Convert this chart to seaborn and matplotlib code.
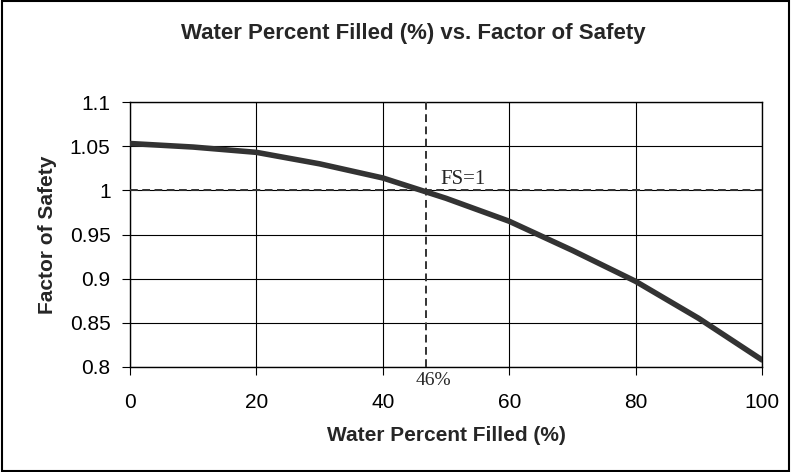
import numpy as np
import pandas as pd
import matplotlib
matplotlib.use("Agg")
import matplotlib.pyplot as plt
from matplotlib.patches import Rectangle
import seaborn as sns

# values
waterPct = [0, 10, 20, 30, 40, 50, 60, 70, 80, 90, 100]
factorSafety = [1.053, 1.049, 1.043, 1.030, 1.014, 0.991, 0.965, 0.932, 0.897, 0.855, 0.808]
fsLimit = 1.0
crossPct = 46.9
xTicks = [0, 20, 40, 60, 80, 100]
yTicks = [0.8, 0.85, 0.9, 0.95, 1.0, 1.05, 1.1]
yTickLabels = ["0.8", "0.85", "0.9", "0.95", "1", "1.05", "1.1"]

df = pd.DataFrame({"water": waterPct, "fs": factorSafety})

sns.set_style("white")
plt.rcParams['font.family'] = ['Liberation Sans', 'DejaVu Sans']

fig = plt.figure(figsize=(7.91, 4.72), dpi=100)
ax = fig.add_axes([130 / 791, 1 - 367 / 472, 632 / 791, 265 / 472])

# outer chart border
fig.patches.append(Rectangle((0.002, 0.003), 0.996, 0.994, transform=fig.transFigure,
                             fill=False, edgecolor='black', linewidth=1.5))

ax.grid(True, color='black', linewidth=0.8)
ax.set_axisbelow(True)

sns.lineplot(data=df, x="water", y="fs", ax=ax, color='#333333', linewidth=4, zorder=5)

ax.plot([0, 100], [fsLimit, fsLimit], linestyle=(0, (4, 2.3)), color='#333333', linewidth=1.4, zorder=4)
ax.plot([crossPct, crossPct], [0.8, 1.1], linestyle=(0, (4, 2.3)), color='#333333', linewidth=1.4, zorder=4)

ax.text(crossPct + 5.8, fsLimit + 0.001, "FS=1", family=['Liberation Serif'], fontsize=15,
        ha='center', va='bottom')
ax.text(crossPct + 1.1, 0.8 - 0.006, "46%", family=['Liberation Serif'], fontsize=14,
        ha='center', va='top')

ax.set_xlim(0, 100)
ax.set_ylim(0.8, 1.1)
ax.set_xticks(xTicks)
ax.set_yticks(yTicks)
ax.set_yticklabels(yTickLabels)
ax.tick_params(axis='both', direction='out', length=6, width=0.8, labelsize=15,
               bottom=True, left=True, colors='black')
ax.tick_params(axis='x', pad=13)
ax.tick_params(axis='y', pad=8)
for s in ax.spines.values():
    s.set_color('black')
    s.set_linewidth(1.0)

ax.set_xlabel("Water Percent Filled (%)", fontsize=15, fontweight='bold', labelpad=10)
ax.set_ylabel("Factor of Safety", fontsize=15, fontweight='bold', labelpad=9)
fig.text(413 / 791, 1 - 33 / 472, "Water Percent Filled (%) vs. Factor of Safety", fontsize=16,
         fontweight='bold', ha='center', va='center')

fig.savefig("out.png", dpi=100)
